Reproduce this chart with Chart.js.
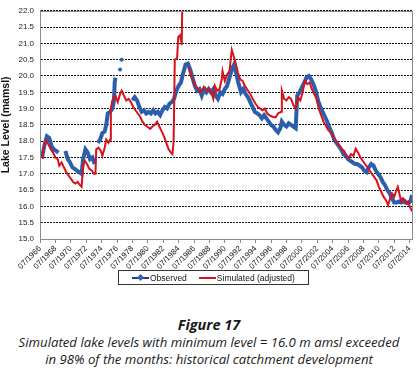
<!DOCTYPE html>
<html>
<head>
<meta charset="utf-8">
<script src="https://cdn.jsdelivr.net/npm/chart.js@4/dist/chart.umd.min.js"></script>
<style>
  body { margin: 0; background: #fff; }
  #wrap { position: relative; width: 418px; height: 377px; overflow: hidden; font-family: "Liberation Sans", Arial, sans-serif; }
  #chart { position: absolute; left: 0; top: 0; }
  .legend { position: absolute; left: 118px; top: 270px; width: 191px; height: 15px; border: 1px solid #333; box-sizing: border-box;
            font-size: 8.5px; color: #111; display: flex; align-items: center; }
  .sw { position: relative; display: inline-block; width: 17px; height: 2px; margin-right: 1px; }
  .cap { position: absolute; left: 0; width: 418px; text-align: center; font-family: "Open Sans", "Noto Sans", sans-serif; font-style: italic; color: #1a1a1a; }
</style>
</head>
<body>
<div id="wrap">
  <canvas id="chart" width="418" height="290"></canvas>
  <div class="legend">
    <span class="sw" style="margin-left:13px;background:#1f3f8c"><span style="position:absolute;left:6px;top:-2px;width:5px;height:5px;background:#2f63b3;transform:rotate(45deg)"></span></span><span>Observed</span>
    <span class="sw" style="margin-left:12px;background:#d8121c"></span><span>Simulated (adjusted)</span>
  </div>
  <div class="cap" style="top:315px;font-weight:700;font-size:14.5px">Figure 17</div>
  <div class="cap" style="top:333px;font-size:13.2px">Simulated lake levels with minimum level = 16.0 m amsl exceeded</div>
  <div class="cap" style="top:350px;font-size:13.2px">in 98% of the months: historical catchment development</div>
</div>
<script>
// observed lake level (mamsl) — null marks a gap in the record
const obsYears = [1966.5, 1966.8, 1967.1, 1967.4, 1967.7, 1968.0, 1968.3, 1968.6, 1968.9, 1969.3,
  1969.8, 1970.1, 1970.4, 1970.7, 1971.0, 1971.3, 1971.6, 1971.9, 1972.1, 1972.4, 1972.7, 1973.0, 1973.3, 1973.6, 1973.8,
  1974.0, 1974.3, 1974.6, 1974.9, 1975.1, 1975.3, 1975.6, 1975.9, 1976.1, 1976.2, 1976.3, 1976.6, 1976.9, 1977.0, 1977.1, 1977.5,
  1978.5, 1978.8, 1979.1, 1979.4, 1979.7, 1980.0, 1980.3, 1980.6, 1980.9, 1981.2, 1981.5, 1981.8, 1982.1, 1982.4, 1982.7,
  1983.0, 1983.3, 1983.6, 1983.9, 1984.2, 1984.5, 1984.8, 1985.1, 1985.4, 1985.7, 1986.0, 1986.3, 1986.6, 1986.9,
  1987.2, 1987.5, 1987.8, 1988.1, 1988.4, 1988.7, 1989.0, 1989.3, 1989.6, 1989.9, 1990.2, 1990.5, 1990.8, 1991.1, 1991.4, 1991.7,
  1992.0, 1992.3, 1992.6, 1992.9, 1993.2, 1993.5, 1993.8, 1994.1, 1994.4, 1994.7, 1995.0, 1995.3, 1995.6, 1995.9,
  1996.2, 1996.5, 1996.8, 1997.1, 1997.4, 1997.7, 1997.9, 1998.2, 1998.5, 1998.8, 1999.1, 1999.4, 1999.7, 1999.9,
  2000.2, 2000.5, 2000.8, 2001.1, 2001.4, 2001.7, 2002.0, 2002.3, 2002.6, 2002.9, 2003.2, 2003.5, 2003.8,
  2004.1, 2004.4, 2004.7, 2005.0, 2005.3, 2005.6, 2005.9, 2006.2, 2006.5, 2006.8, 2007.1, 2007.4, 2007.7,
  2008.0, 2008.3, 2008.6, 2008.9, 2009.2, 2009.5, 2009.8, 2010.1, 2010.4, 2010.7, 2011.0, 2011.3, 2011.6, 2011.9,
  2012.2, 2012.5, 2012.8, 2013.1, 2013.4, 2013.7, 2014.0, 2014.3, 2014.6, 2014.8];
const obsLevels = [17.6, 17.55, 17.9, 18.15, 18.1, 17.85, 17.75, 17.7, 17.65, null,
  17.7, 17.45, 17.35, 17.2, 17.15, 17.1, 17.05, 17.0, 17.45, 17.75, 17.65, 17.45, 17.5, 17.3, null,
  17.95, 18.05, 18.25, 18.3, 18.5, 18.85, 18.9, 19.0, 19.25, 19.8, 19.95, null, 20.2, null, 20.5, null,
  19.25, 19.35, 19.25, 19.05, 18.9, 18.95, 18.85, 18.9, 18.85, 18.95, 18.85, 18.9, 18.8, 18.95, 19.05,
  19.0, 19.15, 19.2, 19.3, 19.55, 19.7, 19.8, 20.1, 20.35, 20.38, 20.2, 19.95, 19.7, 19.55,
  19.6, 19.4, 19.6, 19.5, 19.6, 19.5, 19.6, 19.4, 19.3, 19.5, 19.45, 19.6, 19.7, 19.95, 20.2, 20.35,
  20.05, 19.75, 19.5, 19.6, 19.45, 19.35, 19.2, 19.05, 18.9, 18.85, 18.8, 18.7, 18.8, 18.7,
  18.6, 18.5, 18.45, 18.35, 18.27, 18.4, 18.6, 18.5, 18.45, 18.55, 18.5, 18.45, 18.4, 19.4,
  19.5, 19.65, 19.8, 19.95, 20.0, 19.9, 19.75, 19.55, 19.25, 19.05, 18.9, 18.75, 18.6,
  18.4, 18.25, 18.05, 17.95, 17.85, 17.75, 17.6, 17.55, 17.45, 17.4, 17.35, 17.3, 17.3,
  17.25, 17.2, 17.1, 17.05, 17.2, 17.3, 17.25, 17.1, 17.0, 16.9, 16.75, 16.65, 16.5, 16.4,
  16.25, 16.12, 16.12, 16.15, 16.12, 16.15, 16.12, 16.1, 16.15, 16.35];

// simulated (adjusted) lake level — goes off the top of the axis in 1985
const simYears = [1966.5, 1966.8, 1967.1, 1967.3, 1967.6, 1967.9, 1968.2, 1968.5, 1968.8, 1969.0, 1969.3, 1969.6, 1969.9,
  1970.2, 1970.5, 1970.8, 1971.1, 1971.4, 1971.7, 1971.9, 1972.1, 1972.3, 1972.6, 1972.9, 1973.2, 1973.5, 1973.7, 1973.8,
  1974.1, 1974.4, 1974.6, 1974.9, 1975.1, 1975.4, 1975.6, 1975.7, 1975.9, 1976.3, 1976.6, 1976.9, 1977.1, 1977.4, 1977.7,
  1978.0, 1978.3, 1978.6, 1978.9, 1979.2, 1979.5, 1979.8, 1980.1, 1980.4, 1980.8, 1981.1, 1981.4, 1981.7,
  1982.0, 1982.3, 1982.6, 1982.9, 1983.2, 1983.5, 1983.7, 1983.85, 1984.0, 1984.3, 1984.45, 1984.7, 1984.9, 1985.0, 1985.3,
  1985.8, 1986.1, 1986.4, 1986.7, 1987.0, 1987.3, 1987.6, 1987.9, 1988.2, 1988.5, 1988.8, 1989.0, 1989.2, 1989.5, 1989.8,
  1990.1, 1990.2, 1990.5, 1990.8, 1991.1, 1991.4, 1991.6, 1991.9, 1992.2, 1992.5, 1992.8, 1993.1, 1993.5, 1993.8,
  1994.1, 1994.5, 1994.8, 1995.1, 1995.4, 1995.7, 1996.0, 1996.4, 1996.7, 1997.1, 1997.4, 1997.8, 1997.9,
  1998.2, 1998.5, 1998.8, 1999.1, 1999.4, 1999.7, 2000.0, 2000.3, 2000.6, 2000.9, 2001.2, 2001.5, 2001.8,
  2002.1, 2002.4, 2002.7, 2003.0, 2003.3, 2003.6, 2003.9, 2004.2, 2004.5, 2004.8, 2005.1, 2005.4, 2005.7,
  2006.0, 2006.3, 2006.6, 2006.9, 2007.2, 2007.5, 2007.8, 2008.1, 2008.4, 2008.7, 2009.0, 2009.3, 2009.6, 2009.9,
  2010.2, 2010.5, 2010.8, 2011.1, 2011.4, 2011.7, 2011.9, 2012.2, 2012.5, 2012.7, 2012.95, 2013.2, 2013.4, 2013.6,
  2013.9, 2014.1, 2014.3, 2014.5, 2014.8];
const simLevels = [17.55, 17.5, 17.95, 18.02, 17.9, 17.75, 17.65, 17.5, 17.45, 17.25, 17.35, 17.2, 17.05,
  16.95, 16.85, 16.75, 16.7, 16.75, 16.65, 16.6, 17.25, 17.4, 17.3, 17.15, 17.1, 17.0, 17.0, 17.75,
  17.8, 17.7, 17.55, 17.8, 18.05, 17.95, 18.05, 19.0, 19.25, 19.4, 19.2, 19.45, 19.55, 19.4, 19.25,
  19.3, 19.2, 19.05, 18.95, 18.85, 18.75, 18.6, 18.5, 18.45, 18.38, 18.45, 18.5, 18.6,
  18.45, 18.3, 18.15, 17.95, 17.75, 17.65, 17.6, 18.0, 20.5, 20.55, 21.2, 21.25, 20.95, 22.6, null,
  20.25, 20.0, 19.85, 19.7, 19.6, 19.5, 19.6, 19.65, 19.55, 19.6, 19.45, 19.3, 19.7, 19.55, 19.6,
  19.9, 20.15, 19.85, 20.05, 20.15, 20.8, 20.65, 20.4, 20.1, 19.9, 19.85, 19.7, 19.55, 19.45,
  19.3, 19.15, 19.05, 19.0, 18.95, 19.0, 18.85, 18.78, 18.75, 18.73, 18.85, 18.9, 19.55,
  19.3, 19.25, 19.35, 19.3, 19.1, 19.0, 19.35, 19.25, 19.5, 19.85, 19.75, 19.8, 19.6,
  19.45, 19.3, 19.0, 18.8, 18.6, 18.48, 18.35, 18.28, 18.15, 18.05, 17.95, 17.85, 17.75,
  17.7, 17.55, 17.5, 17.6, 17.55, 17.77, 17.65, 17.5, 17.4, 17.3, 17.2, 17.1, 17.0, 16.9,
  16.8, 16.6, 16.45, 16.3, 16.2, 16.04, 16.2, 16.4, 16.3, 16.45, 16.6, 16.35, 16.15, 16.25,
  16.2, 16.1, 16.15, 16.0, 15.85];

// axis ticks: every two years at July, every 0.5 m on the level axis
const xTickYears = [1966, 1968, 1970, 1972, 1974, 1976, 1978, 1980, 1982, 1984, 1986, 1988, 1990,
  1992, 1994, 1996, 1998, 2000, 2002, 2004, 2006, 2008, 2010, 2012, 2014];
const yMin = 15.0, yMax = 22.0, yStep = 0.5;

const toPts = (xs, ys) => xs.map((x, i) => ({ x, y: ys[i] }));
const tickFont = { family: "Liberation Sans, Arial, sans-serif", size: 8 };

// grey frame round the plot area, like the Excel original
const frame = {
  id: "frame",
  afterDraw(c) {
    const a = c.chartArea, g = c.ctx;
    g.save(); g.strokeStyle = "#8a8a8a"; g.lineWidth = 1;
    g.strokeRect(Math.round(a.left) + 0.5, Math.round(a.top) + 0.5, Math.round(a.right - a.left), Math.round(a.bottom - a.top));
    g.restore();
  },
};

// isolated observations (no neighbours) are shown as dots
const obsRadius = ctx => {
  const i = ctx.dataIndex, v = obsLevels;
  if (v[i] == null) return 0;
  return (v[i - 1] == null && v[i + 1] == null) ? 2 : 0;
};

new Chart(document.getElementById("chart"), {
  type: "line",
  data: {
    datasets: [
      { label: "Observed", data: toPts(obsYears, obsLevels), borderColor: "#2c5eab", backgroundColor: "#2f63b3",
        borderWidth: 4, pointRadius: obsRadius, pointBorderWidth: 0, spanGaps: false, tension: 0, order: 2 },
      { label: "Simulated (adjusted)", data: toPts(simYears, simLevels), borderColor: "#d8121c",
        borderWidth: 2, pointRadius: 0, spanGaps: false, tension: 0, order: 1 },
    ],
  },
  options: {
    responsive: false, animation: false, devicePixelRatio: 1,
    layout: { padding: { top: 9, right: 6, left: 0, bottom: 0 } },
    plugins: { legend: { display: false }, tooltip: { enabled: false } },
    scales: {
      x: {
        type: "linear", min: 1966.5, max: 2014.8,
        afterBuildTicks: s => { s.ticks = xTickYears.map(y => ({ value: y + 0.5 })); },
        afterFit: s => { s.height = 51; },
        ticks: { autoSkip: false, maxRotation: 45, minRotation: 45, font: tickFont, color: "#222", padding: 1,
                 callback: v => "07/" + Math.floor(v) },
        grid: { drawOnChartArea: false, drawTicks: true, tickLength: 4, color: "#8a8a8a" },
        border: { color: "#8a8a8a" },
      },
      y: {
        min: yMin, max: yMax,
        afterBuildTicks: s => { const t = []; for (let v = yMin; v <= yMax + 1e-9; v += yStep) t.push({ value: +v.toFixed(1) }); s.ticks = t; },
        afterFit: s => { s.width = 40; },
        ticks: { font: tickFont, color: "#222", padding: 6, callback: v => v.toFixed(1) },
        grid: { color: "#111", lineWidth: 1, drawTicks: false },
        border: { color: "#8a8a8a", dash: [2, 1] },
        title: { display: true, text: "Lake Level (mamsl)", font: { family: "Liberation Sans, Arial, sans-serif", size: 10.5, weight: "bold" }, color: "#111", padding: 0 },
      },
    },
  },
  plugins: [frame],
});
</script>
</body>
</html>
